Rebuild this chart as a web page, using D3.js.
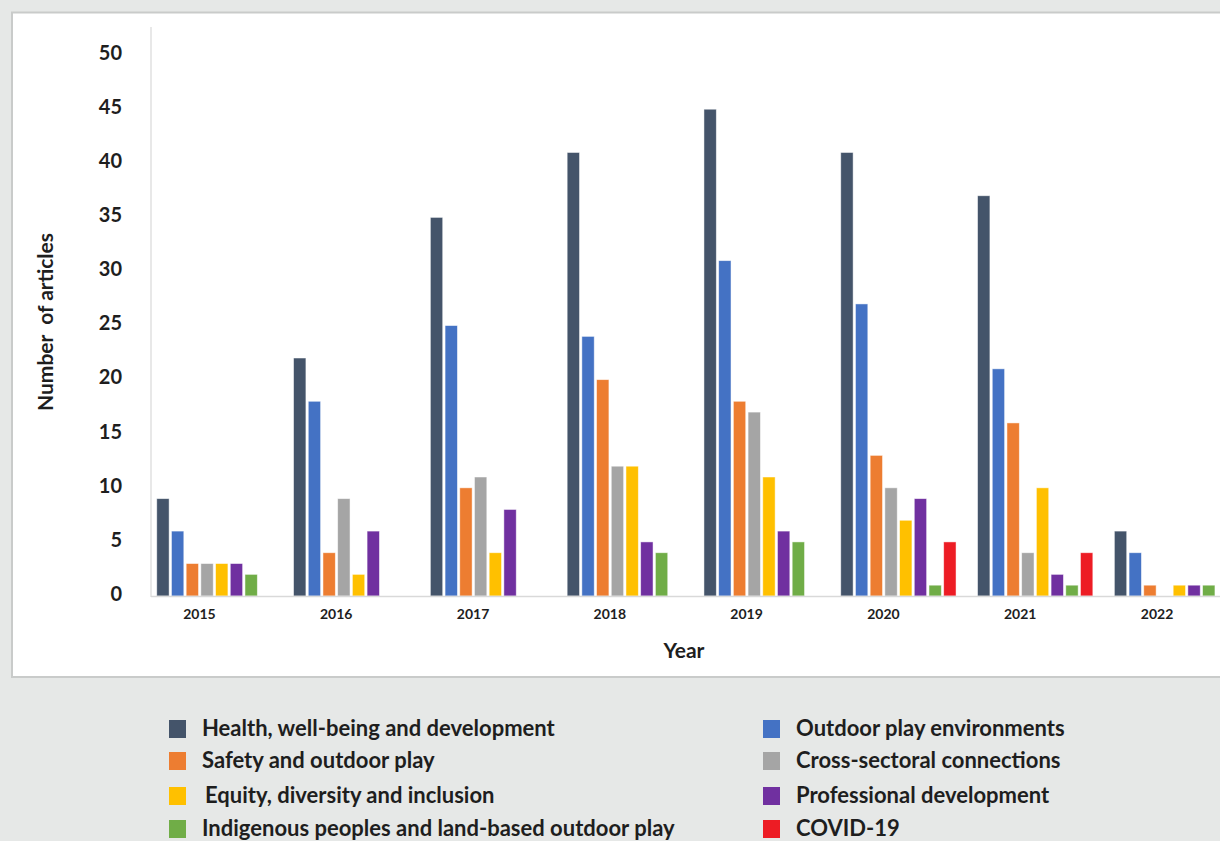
<!DOCTYPE html>
<html>
<head>
<meta charset="utf-8">
<script src="https://cdn.jsdelivr.net/npm/d3@7"></script>
<style>
  html, body { margin: 0; padding: 0; background: #e6e8e7; }
  svg { display: block; }
  text { font-family: Lato, "Open Sans", "DejaVu Sans", sans-serif; font-weight: 700; fill: #1e1e1e; }
</style>
</head>
<body>
<svg id="chart" width="1220" height="841"></svg>
<script>
const years = ["2015", "2016", "2017", "2018", "2019", "2020", "2021", "2022"];
const seriesNames = [
  "Health, well-being and development",
  "Outdoor play environments",
  "Safety and outdoor play",
  "Cross-sectoral connections",
  "Equity, diversity and inclusion",
  "Professional development",
  "Indigenous peoples and land-based outdoor play",
  "COVID-19"
];
const seriesColors = ["#44546a", "#4472c4", "#ed7d31", "#a5a5a5", "#ffc000", "#7030a0", "#70ad47", "#ed1c24"];
const health      = [9, 22, 35, 41, 45, 41, 37, 6];
const outdoor     = [6, 18, 25, 24, 31, 27, 21, 4];
const safety      = [3, 4, 10, 20, 18, 13, 16, 1];
const crossSector = [3, 9, 11, 12, 17, 10, 4, 0];
const equity      = [3, 2, 4, 12, 11, 7, 10, 1];
const professional= [3, 6, 8, 5, 6, 9, 2, 1];
const indigenous  = [2, 0, 0, 4, 5, 1, 1, 1];
const covid       = [0, 0, 0, 0, 0, 5, 4, 0];
const yTicks = [0, 5, 10, 15, 20, 25, 30, 35, 40, 45, 50];
const yTitle = "Number\u00a0\u00a0of articles";
const xTitle = "Year";

const seriesValues = [health, outdoor, safety, crossSector, equity, professional, indigenous, covid];

const svg = d3.select("#chart");

// white panel
svg.append("rect")
  .attr("x", 12).attr("y", 12.5)
  .attr("width", 1240).attr("height", 664.5)
  .attr("fill", "#ffffff")
  .attr("stroke", "#c9cbca").attr("stroke-width", 2);

const axisX = 151;
const y = d3.scaleLinear().domain([0, 52.6]).range([596, 27]);

const x0 = d3.scaleBand().domain(years)
  .range([146, 146 + 8 * 136.8])
  .paddingInner(0.153).paddingOuter(0.0765);
const x1 = d3.scaleBand().domain(d3.range(seriesNames.length))
  .range([0, x0.bandwidth()])
  .paddingInner(0.16).paddingOuter(0.02);

// bars
const groups = svg.append("g").selectAll("g")
  .data(years).join("g")
  .attr("transform", d => `translate(${x0(d)},0)`);

groups.selectAll("rect")
  .data((yr, i) => seriesValues.map((vals, s) => ({ s, v: vals[i] })).filter(d => d.v > 0))
  .join("rect")
  .attr("x", d => x1(d.s))
  .attr("width", x1.bandwidth())
  .attr("y", d => y(d.v))
  .attr("height", d => y(0) - y(d.v))
  .attr("fill", d => seriesColors[d.s])
  .attr("stroke", "#ffffff").attr("stroke-opacity", 0.6).attr("stroke-width", 0.8);

// axes lines
svg.append("line")
  .attr("x1", axisX).attr("x2", axisX)
  .attr("y1", y.range()[1]).attr("y2", y(0) + 1)
  .attr("stroke", "#d9d9d9").attr("stroke-width", 1.2);
svg.append("line")
  .attr("x1", axisX).attr("x2", 1220)
  .attr("y1", y(0) + 0.5).attr("y2", y(0) + 0.5)
  .attr("stroke", "#d9d9d9").attr("stroke-width", 1.5);

// y tick labels
const yAxis = d3.axisLeft(y).tickValues(yTicks).tickSize(0).tickPadding(0);
const yg = svg.append("g").attr("transform", "translate(122,-2.5)").call(yAxis);
yg.select(".domain").remove();
yg.selectAll("text")
  .attr("font-size", 20).attr("dy", "0.34em")
  .style("font-family", "Lato, sans-serif").style("font-weight", 700).attr("fill", "#1e1e1e");

// x tick labels
const xAxis = d3.axisBottom(x0).tickSize(0).tickPadding(0);
const xg = svg.append("g").attr("transform", `translate(-15,${y(0)})`).call(xAxis);
xg.select(".domain").remove();
xg.selectAll("text")
  .attr("font-size", 14).attr("y", 23).attr("dy", 0)
  .style("font-family", "Lato, sans-serif").style("font-weight", 700).attr("fill", "#1e1e1e");

// axis titles
svg.append("text")
  .attr("transform", "translate(53,322) rotate(-90)")
  .attr("text-anchor", "middle").attr("font-size", 21)
  .text(yTitle);
svg.append("text")
  .attr("x", 684).attr("y", 658)
  .attr("text-anchor", "middle").attr("font-size", 21)
  .text(xTitle);

// legend
const legendCols = [169, 763];
const legendRows = [720, 752, 787, 820];
const legend = svg.append("g").selectAll("g")
  .data(seriesNames).join("g")
  .attr("transform", (d, i) => `translate(${legendCols[i % 2]},${legendRows[Math.floor(i / 2)]})`);
legend.append("rect")
  .attr("width", 17).attr("height", 18)
  .attr("fill", (d, i) => seriesColors[i]);
legend.append("text")
  .attr("x", (d, i) => i === 4 ? 36 : 33).attr("y", 16)
  .attr("font-size", 22)
  .text(d => d);
</script>
</body>
</html>
